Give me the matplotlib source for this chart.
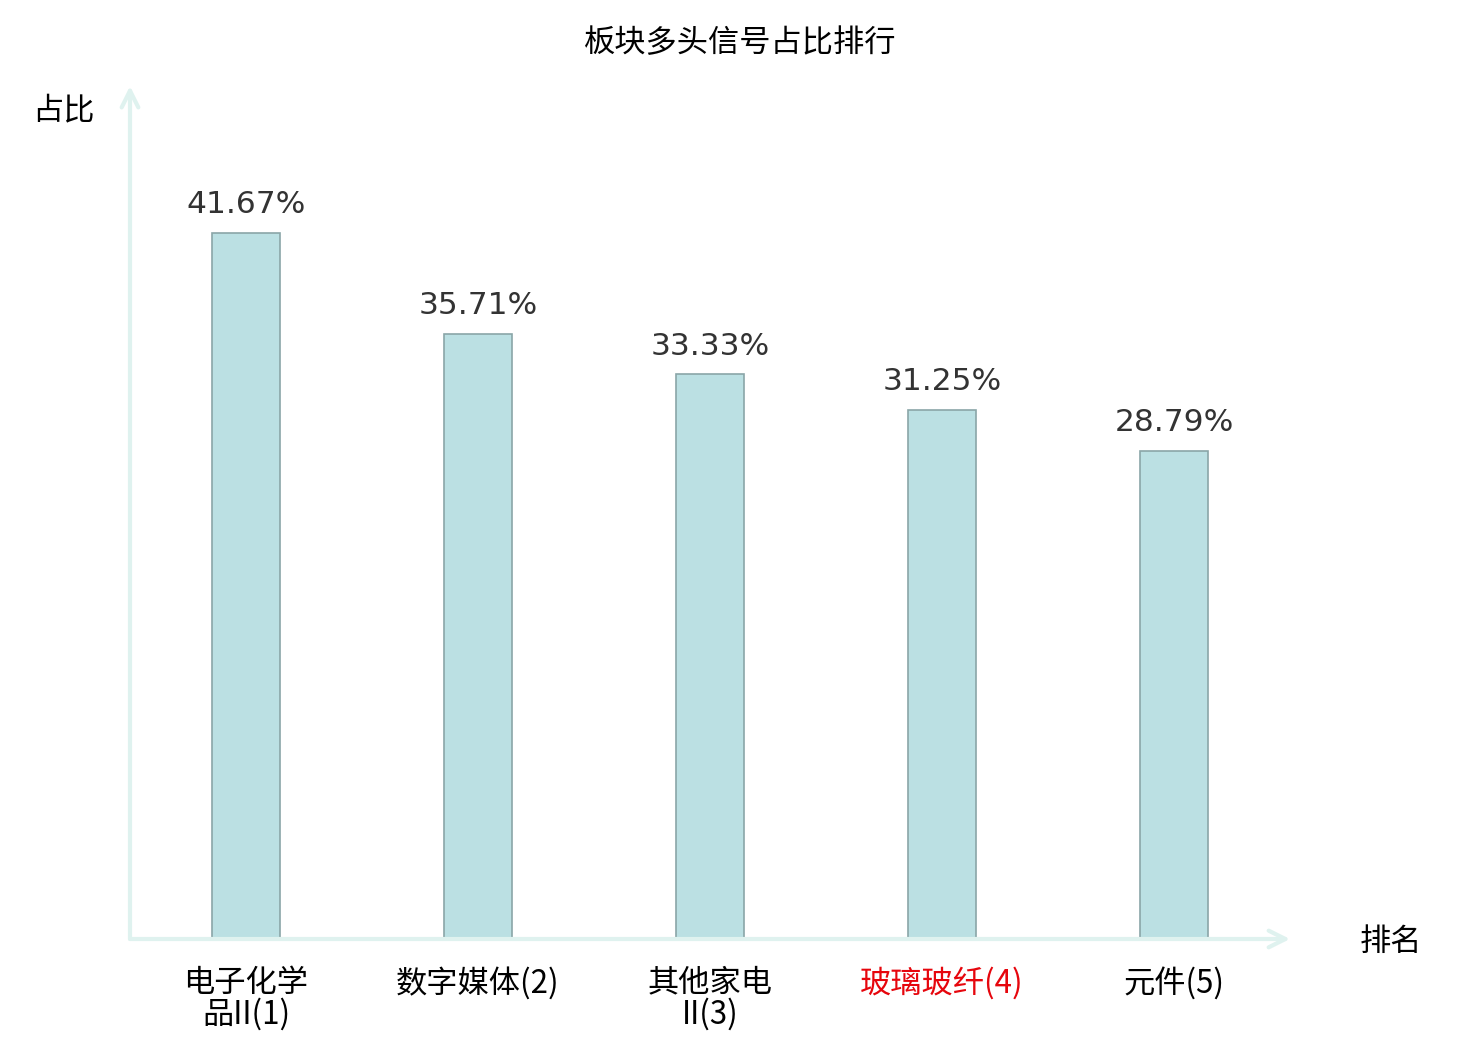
'''Sector long-signal share ranking bar chart.'''

import matplotlib
matplotlib.use('Agg')
import matplotlib.pyplot as plt

plt.rcParams['font.family'] = ['Noto Sans CJK SC', 'DejaVu Sans']

categories = ['电子化学\n品II(1)', '数字媒体(2)', '其他家电\nII(3)', '玻璃玻纤(4)', '元件(5)']
values = [41.67, 35.71, 33.33, 31.25, 28.79]
value_labels = ['41.67%', '35.71%', '33.33%', '31.25%', '28.79%']
label_colors = ['#000000', '#000000', '#000000', '#e6060d', '#000000']

W, H = 1480, 1040
fig = plt.figure(figsize=(W / 100, H / 100), dpi=100)
ax = fig.add_axes([130 / W, 101 / H, 1160 / W, 847 / H])

x = list(range(len(values)))
ax.bar(x, values, width=68 / 232, color='#bbe0e3', edgecolor='#8aa6a8', linewidth=1.2, zorder=2)

for xi, v, lab in zip(x, values, value_labels):
    ax.annotate(lab, (xi, v), xytext=(0, 10), textcoords='offset points',
                ha='center', va='bottom', fontsize=22.5, color='#333333',
                family=['DejaVu Sans'])

ax.set_xlim(-0.5, 4.5)
ax.set_ylim(0, 50)
for s in ax.spines.values():
    s.set_visible(False)
ax.set_xticks([])
ax.set_yticks([])

# axis lines with open arrow heads
axis_color = '#dff2ef'
ax.annotate('', xy=(1.0, 0), xytext=(0, 0), xycoords='axes fraction',
            arrowprops=dict(arrowstyle='->', color=axis_color, lw=3,
                            mutation_scale=30, shrinkA=0, shrinkB=0),
            annotation_clip=False)
ax.annotate('', xy=(0, 1.007), xytext=(0, 0), xycoords='axes fraction',
            arrowprops=dict(arrowstyle='->', color=axis_color, lw=3,
                            mutation_scale=30, shrinkA=0, shrinkB=0),
            annotation_clip=False)

# category labels
for xi, cat, c in zip(x, categories, label_colors):
    ax.annotate(cat, (xi, 0), xytext=(0, -20), textcoords='offset points',
                ha='center', va='top', fontsize=22.5, color=c,
                linespacing=0.97)

fig.text(740 / W, 1 - 43 / H, '板块多头信号占比排行', ha='center', va='center', fontsize=22.5)
fig.text(63 / W, 1 - 110 / H, '占比', ha='center', va='center', fontsize=22.5)
fig.text(1391 / W, 1 - 942 / H, '排名', ha='center', va='center', fontsize=22.5)

fig.savefig('out.png', dpi=100, facecolor='white')
